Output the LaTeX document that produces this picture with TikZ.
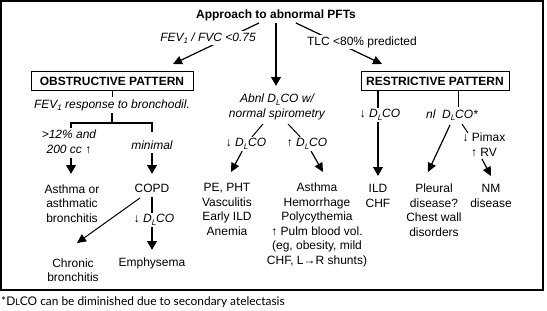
\documentclass[tikz,border=0pt]{standalone}
\usepackage{fontspec}
\setmainfont{Liberation Sans}
\newfontfamily\footfont{Lato}
\usetikzlibrary{arrows.meta,backgrounds}
\newcommand\mysub[1]{\raisebox{-.4ex}{\fontsize{8}{8}\selectfont #1}}
\newcommand\dlco{D\mysub{L}CO}
\begin{document}
\begin{tikzpicture}[x=1pt,y=-1pt,
  every node/.style={inner sep=1pt, font=\fontsize{12}{14.5}\selectfont, align=center},
  bx/.style={draw, line width=1pt, minimum width=162pt, minimum height=19pt, font=\fontsize{12}{14.5}\selectfont\bfseries},
  lab/.style={fill=white, inner sep=1.5pt},
  it/.style={font=\fontsize{12}{14.5}\selectfont\itshape},
  thinline/.style={line width=1pt},
  arr/.style={line width=1.2pt, -{Triangle[length=9pt,width=8.5pt]}},
  barr/.style={line width=2.2pt, -{Triangle[length=9pt,width=9.5pt]}},
]
\useasboundingbox (0,0) rectangle (547,311);
\node[draw, line width=1.2pt, minimum width=542pt, minimum height=289pt, inner sep=0pt] (frame) at (272,145.5) {};

% nodes
\node[font=\fontsize{12}{14.5}\selectfont\bfseries] (title) at (276,15) {Approach to abnormal PFTs};
\node[it,lab] (fev) at (208,38) {FEV\mysub{1} / FVC <0.75};
\node[lab] (tlc) at (362,42) {TLC <80\% predicted};
\node[bx] (obs) at (112,81) {OBSTRUCTIVE PATTERN};
\node[bx, minimum width=148pt] (res) at (435,81) {RESTRICTIVE PATTERN};
\node[it] (resp) at (112,105) {FEV\mysub{1} response to bronchodil.};
\node[it] (gt) at (69,142) {>12\% and\\200 cc \textup{↑}};
\node[it] (mini) at (152,145) {minimal};
\node (asth) at (72,203.5) {Asthma or\\asthmatic\\bronchitis};
\node (copd) at (152,188) {COPD};
\node (emph) at (152,263) {Emphysema};
\node (chron) at (73,270) {Chronic\\bronchitis};
\node[it] (abnl) at (277,107) {Abnl \dlco{} w/\\normal spirometry};
\node (pe) at (227,209.5) {PE, PHT\\Vasculitis\\Early ILD\\Anemia};
\node (asth2) at (317,225) {Asthma\\Hemorrhage\\Polycythemia\\↑ Pulm blood vol.\\(eg, obesity, mild\\CHF, L→R shunts)};
\node (ild) at (378,196) {ILD\\CHF};
\node (pleu) at (434,210) {Pleural\\disease?\\Chest wall\\disorders};
\node (nm) at (491,196) {NM\\disease};
\node[it] (nl) at (452,115) {nl \ \dlco*};
\node (pim) at (484,145) {↓ Pimax\\↑ RV};
\node[anchor=west, inner sep=0pt, font=\footfont\fontsize{11.9}{13}\selectfont] (foot) at (1,302) {*D{\fontsize{9}{9}\selectfont L}CO can be diminished due to secondary atelectasis};

% coordinates for connector ends
\coordinate (t1) at (259,23);
\coordinate (o1) at (173,64);
\coordinate (t2) at (296,23);
\coordinate (r1) at (382,64);
\coordinate (t3) at (276,23);
\coordinate (a1) at (276,86);
\coordinate (ob) at (112,90.5);
\coordinate (rs) at (112,97);
\coordinate (rb) at (112,113);
\coordinate (bm) at (112,123);
\coordinate (bl) at (71,123);
\coordinate (br) at (152,123);
\coordinate (gl) at (71,128);
\coordinate (ml) at (152,132);
\coordinate (g2) at (71,158);
\coordinate (g3) at (71,174);
\coordinate (m2) at (152,153);
\coordinate (m3) at (152,174);
\coordinate (c1) at (152,197);
\coordinate (c2) at (152,250);
\coordinate (c3) at (140,198);
\coordinate (c4) at (77,243);
\coordinate (ab1) at (263,124);
\coordinate (ab2) at (231,172);
\coordinate (ab3) at (288,124);
\coordinate (ab4) at (323,172);
\coordinate (rr1) at (378,90.5);
\coordinate (rr2) at (378,176);
\coordinate (rr3) at (458,90.5);
\coordinate (rr4) at (458,107);
\coordinate (n1) at (450,125);
\coordinate (n2) at (428,172);
\coordinate (n3) at (462,124);
\coordinate (n4) at (468,133);
\coordinate (p1) at (482,159);
\coordinate (p2) at (491,176);

% labels on lines
\node[it,lab] (dl1) at (154,220) {\textup{↓} \dlco};
\node[it,lab] (dl2) at (246,144) {\textup{↓} \dlco};
\node[it,lab] (dl3) at (307,144) {\textup{↑} \dlco};
\node[it,lab] (dl4) at (380,115) {\textup{↓} \dlco};

\begin{pgfonlayer}{background}
\draw[arr] (t1) -- (o1);
\draw[arr] (t2) -- (r1);
\draw[barr] (t3) -- (a1);
\draw[thinline] (ob) -- (rs);
\draw[line width=1.5pt] (rb) -- (bm);
\draw[line width=1.5pt] (gl) -- (bl) -- (br) -- (ml);
\draw[barr] (g2) -- (g3);
\draw[barr] (m2) -- (m3);
\draw[barr] (c1) -- (c2);
\draw[thinline, -{Triangle[length=9pt,width=8.5pt]}] (c3) -- (c4);
\draw[thinline] (ab1) -- (dl2);
\draw[arr] (dl2) -- (ab2);
\draw[thinline] (ab3) -- (dl3);
\draw[arr] (dl3) -- (ab4);
\draw[barr] (rr1) -- (rr2);
\draw[thinline] (rr3) -- (rr4);
\draw[arr] (n1) -- (n2);
\draw[thinline] (n3) -- (n4);
\draw[arr] (p1) -- (p2);
\end{pgfonlayer}
\end{tikzpicture}
\end{document}
